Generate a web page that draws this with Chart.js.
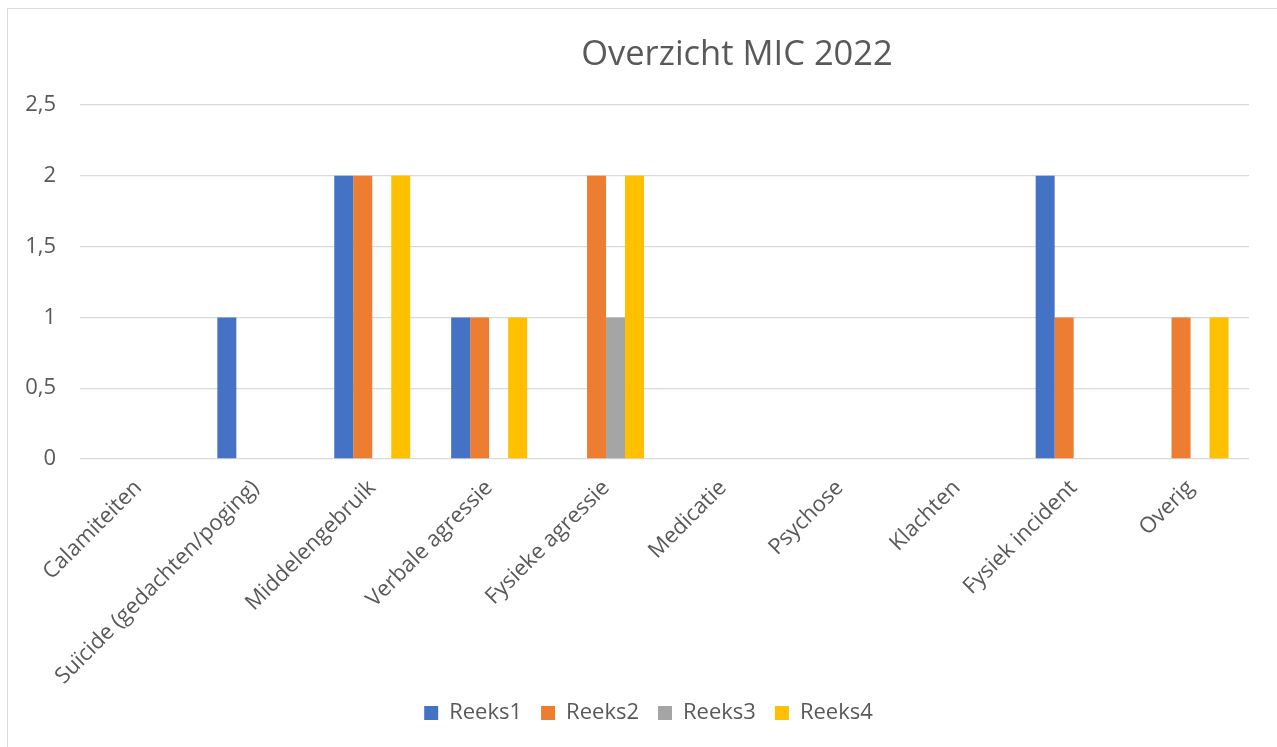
<!DOCTYPE html>
<html>
<head>
<meta charset="utf-8">
<script src="https://cdn.jsdelivr.net/npm/chart.js@4/dist/chart.umd.min.js"></script>
<style>
  html, body { margin: 0; padding: 0; background: #fff; overflow: hidden; }
  #frame { position: absolute; left: 7px; top: 8px; width: 1400px; height: 900px; border: 1px solid #d9d9d9; }
  #wrap { position: absolute; left: 0; top: 0; width: 1277px; height: 747px; }
  #title { position: absolute; left: 437px; top: 29px; width: 600px; text-align: center;
           font-family: "Open Sans", sans-serif; font-size: 34.5px; line-height: 46px; color: #595959; }
</style>
</head>
<body>
<div id="frame"></div>
<div id="wrap"><canvas id="micChart" width="1277" height="747"></canvas></div>
<div id="title">Overzicht MIC 2022</div>
<script>
const categories = ["Calamiteiten", "Suïcide (gedachten/poging)", "Middelengebruik", "Verbale agressie",
  "Fysieke agressie", "Medicatie", "Psychose", "Klachten", "Fysiek incident", "Overig"];
const reeks1 = [0, 1, 2, 1, 0, 0, 0, 0, 2, 0];
const reeks2 = [0, 0, 2, 1, 2, 0, 0, 0, 1, 1];
const reeks3 = [0, 0, 0, 0, 1, 0, 0, 0, 0, 0];
const reeks4 = [0, 0, 2, 1, 2, 0, 0, 0, 0, 1];
const yTicks = [0, 0.5, 1, 1.5, 2, 2.5];

const textColor = "#595959";
const font = "'Open Sans', sans-serif";

// long rotated labels run down past the legend's top, so let them draw below the axis box,
// and nudge the legend right like in the original
const layoutFix = {
  id: "layoutFix",
  afterLayout(chart) {
    chart.scales.x.bottom = chart.height;
    chart.legend.left += 24;
    chart.legend.right += 24;
  }
};

const ctx = document.getElementById("micChart");
const chart = new Chart(ctx, {
  type: "bar",
  data: {
    labels: categories,
    datasets: [
      { label: "Reeks1", data: reeks1, backgroundColor: "#4472C4" },
      { label: "Reeks2", data: reeks2, backgroundColor: "#ED7D31" },
      { label: "Reeks3", data: reeks3, backgroundColor: "#A5A5A5" },
      { label: "Reeks4", data: reeks4, backgroundColor: "#FFC000" }
    ]
  },
  options: {
    responsive: false,
    animation: false,
    layout: { padding: { top: 105, right: 28, bottom: 13, left: 0 } },
    datasets: { bar: { categoryPercentage: 0.65, barPercentage: 1, borderWidth: 0 } },
    plugins: {
      title: { display: false },
      tooltip: { enabled: false },
      legend: {
        position: "bottom",
        labels: { color: textColor, font: { family: font, size: 22 }, boxWidth: 14, boxHeight: 14, padding: 19 }
      }
    },
    scales: {
      x: {
        grid: { display: false, drawTicks: false },
        border: { display: false },
        ticks: { color: textColor, font: { family: font, size: 22 }, maxRotation: 45, minRotation: 45, padding: 16, autoSkip: false },
        afterFit: (s) => { s.height = 224; }
      },
      y: {
        min: 0,
        max: 2.5,
        afterBuildTicks: (s) => { s.ticks = yTicks.map(v => ({ value: v })); },
        grid: { color: "#d9d9d9", lineWidth: 1.3, drawTicks: false },
        border: { display: false },
        ticks: { color: textColor, font: { family: font, size: 22 }, padding: 24,
                 callback: (v) => String(v).replace(".", ",") },
        afterFit: (s) => { s.width = 80; }
      }
    }
  },
  plugins: [layoutFix]
});
</script>
</body>
</html>
